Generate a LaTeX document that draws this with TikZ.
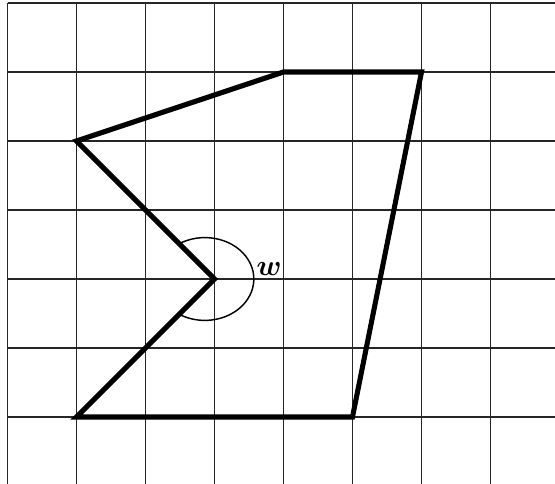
\documentclass[tikz,border=0pt]{standalone}
\usepackage{amsmath, amssymb, bm}
\usepackage{tikz}
\usetikzlibrary{positioning}

\tikzset{
  gridline/.style={line width=0.45pt, black!85},
  shapeline/.style={line width=2.1pt, line join=miter},
  anglemark/.style={line width=0.6pt}
}

\begin{document}
\begin{tikzpicture}
      \useasboundingbox (-0.109,0.0435) rectangle (7.935,-6.971);

      % Grid
      \foreach \x in {0,...,7} {
        \draw[gridline] (\x,0) -- (\x,-6.971);
      }
      \foreach \y in {0,...,6} {
        \draw[gridline] (0,-\y) -- (7.935,-\y);
      }

      % Corners of the shape
      \coordinate (topl) at (4,-1);
      \coordinate (topr) at (6,-1);
      \coordinate (botr) at (5,-6);
      \coordinate (botl) at (1,-6);
      \coordinate (dent) at (3,-4);
      \coordinate (tip) at (1,-2);

      % Shape
      \draw[shapeline] (topl) -- (topr) -- (botr) -- (botl) -- (dent) -- (tip) -- cycle;

      % Reflex angle at the dent
      \draw[anglemark] ([shift={(-0.14,0)}]dent) ++(123:0.71 and 0.6)
        arc[start angle=123, end angle=-123, x radius=0.71, y radius=0.6];
      \node[font=\large] (wlabel) at (3.79,-3.855) {$\bm{w}$};
    \end{tikzpicture}
\end{document}
